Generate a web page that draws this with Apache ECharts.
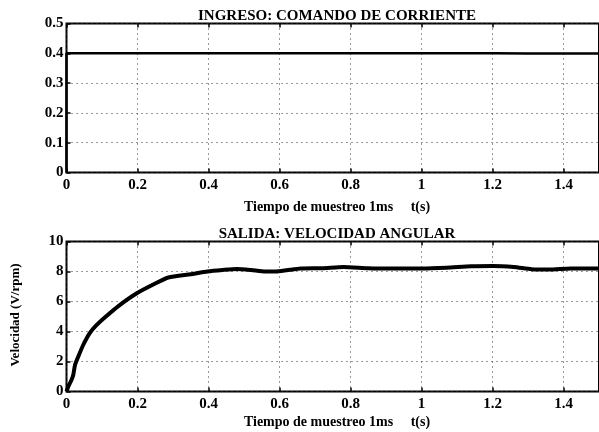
<!DOCTYPE html>
<html>
<head>
<meta charset="utf-8">
<script src="https://cdn.jsdelivr.net/npm/echarts@6/dist/echarts.min.js"></script>
<style>html,body{margin:0;padding:0;background:#fff;}#c{width:599px;height:432px;}</style>
</head>
<body>
<div id="c"></div>
<script>
// ---- data ----
const topTitle = 'INGRESO: COMANDO DE CORRIENTE';
const bottomTitle = 'SALIDA: VELOCIDAD ANGULAR';
const xName = 'Tiempo de muestreo 1ms     t(s)';
const yNameBottom = 'Velocidad (V/rpm)';

const tIn = [0, 0, 0.1, 0.2, 0.3, 0.4, 0.5, 0.6, 0.7, 0.8, 0.9, 1.0, 1.1, 1.2, 1.3, 1.4, 1.5];
const inVals = [0, 0.4, 0.4, 0.4, 0.4, 0.4, 0.4, 0.4, 0.4, 0.4, 0.4, 0.4, 0.4, 0.4, 0.399, 0.399, 0.399];

const tVel = [0, 0.005, 0.014, 0.019, 0.024, 0.033, 0.047, 0.065, 0.083, 0.111, 0.148, 0.198, 0.25, 0.287, 0.35, 0.397, 0.44, 0.48, 0.52, 0.56, 0.59, 0.62, 0.66, 0.72, 0.78, 0.85, 0.92, 1.0, 1.07, 1.14, 1.2, 1.26, 1.31, 1.36, 1.42, 1.5];
const vel  = [0, 0.32, 0.77, 1.1, 1.77, 2.32, 3.1, 3.88, 4.39, 5.0, 5.73, 6.55, 7.2, 7.6, 7.82, 8.0, 8.1, 8.17, 8.1, 8.0, 8.0, 8.08, 8.2, 8.22, 8.3, 8.22, 8.2, 8.2, 8.25, 8.35, 8.37, 8.3, 8.15, 8.13, 8.2, 8.2];

const topY = {min: 0, max: 0.5, interval: 0.1};
const botY = {min: 0, max: 10, interval: 2};
const xRange = {min: 0, max: 1.5, interval: 0.2};

// ---- chart ----
const FONT = '"Liberation Serif", "DejaVu Serif", serif';
const chart = echarts.init(document.getElementById('c'), null, {renderer: 'canvas'});

const grids = [
  {left: 66.5, top: 23.5, width: 541, height: 149, show: true, borderColor: '#000', borderWidth: 2, backgroundColor: 'transparent'},
  {left: 66.5, top: 241.5, width: 541, height: 150, show: true, borderColor: '#000', borderWidth: 2, backgroundColor: 'transparent'}
];

const dotted = {show: true, lineStyle: {type: [1, 4], color: '#333', width: 1}};
const labelStyle = {fontFamily: FONT, fontWeight: 'bold', fontSize: 15, color: '#000'};

function xAxisFor(gi) {
  return [
    {type: 'value', gridIndex: gi, position: 'bottom', min: xRange.min, max: xRange.max, interval: xRange.interval,
     axisLine: {show: false}, axisTick: {show: true, inside: true, length: 4, lineStyle: {color: '#000', width: 1.5}},
     axisLabel: Object.assign({margin: 5, showMaxLabel: false, formatter: v => (v > 1.45 ? '' : String(+v.toFixed(1)))}, labelStyle),
     splitLine: dotted},
    {type: 'value', gridIndex: gi, position: 'top', min: xRange.min, max: xRange.max, interval: xRange.interval,
     axisLine: {show: false}, axisTick: {show: true, inside: true, length: 4, lineStyle: {color: '#000', width: 1.5}},
     axisLabel: {show: false}, splitLine: {show: false}}
  ];
}
function yAxisFor(gi, r, fmt) {
  return {type: 'value', gridIndex: gi, min: r.min, max: r.max, interval: r.interval,
    axisLine: {show: false}, axisTick: {show: true, inside: true, length: 4, lineStyle: {color: '#000', width: 1.5}},
    axisLabel: Object.assign({margin: 3, formatter: fmt}, labelStyle),
    splitLine: dotted};
}

const option = {
  backgroundColor: '#fff',
  animation: false,
  grid: grids,
  xAxis: [...xAxisFor(0), ...xAxisFor(1)],
  yAxis: [yAxisFor(0, topY, v => String(+v.toFixed(1))), yAxisFor(1, botY, v => String(v))],
  series: [
    {type: 'line', xAxisIndex: 0, yAxisIndex: 0, symbol: 'none', data: tIn.map((t, i) => [t, inVals[i]]),
     lineStyle: {color: '#000', width: 2.5}},
    {type: 'line', xAxisIndex: 2, yAxisIndex: 1, symbol: 'none', smooth: 0.2, data: tVel.map((t, i) => [t, vel[i]]),
     lineStyle: {color: '#000', width: 4}}
  ],
  graphic: [
    {type: 'text', x: 337, y: 16, style: {text: topTitle, font: 'bold 15px ' + FONT, fill: '#000', textAlign: 'center', textVerticalAlign: 'middle'}},
    {type: 'text', x: 337, y: 207, style: {text: xName, font: 'bold 14px ' + FONT, fill: '#000', textAlign: 'center', textVerticalAlign: 'middle'}},
    {type: 'text', x: 337, y: 234, style: {text: bottomTitle, font: 'bold 15px ' + FONT, fill: '#000', textAlign: 'center', textVerticalAlign: 'middle'}},
    {type: 'text', x: 337, y: 422, style: {text: xName, font: 'bold 14px ' + FONT, fill: '#000', textAlign: 'center', textVerticalAlign: 'middle'}},
    {type: 'text', x: 16, y: 315, rotation: Math.PI / 2, style: {text: yNameBottom, font: 'bold 13px ' + FONT, fill: '#000', textAlign: 'center', textVerticalAlign: 'middle'}}
  ]
};
chart.setOption(option);
</script>
</body>
</html>
